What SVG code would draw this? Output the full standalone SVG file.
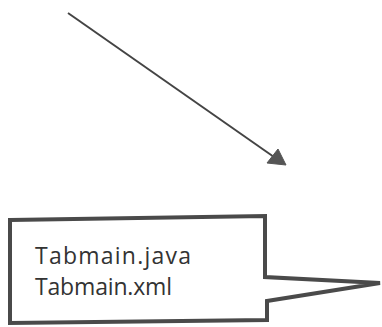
<svg xmlns="http://www.w3.org/2000/svg" width="382" height="327" viewBox="0 0 382 327">
  <defs>
    <style>
      .conn { stroke: #444; stroke-width: 2; fill: none; }
      .callout { fill: #fff; stroke: #4a4a4a; stroke-width: 4; stroke-linejoin: miter; }
      .label { font-family: "Open Sans", "Liberation Sans", sans-serif; font-size: 23px; fill: #333; }
    </style>
  </defs>
  <rect width="382" height="327" fill="#fff"/>
  <g id="connectors">
    <line class="conn" x1="68" y1="13" x2="274" y2="157"/>
    <polygon points="286,165 267,163 278,149" fill="#555" stroke="#555" stroke-width="1" stroke-linejoin="round"/>
  </g>
  <g id="callout">
    <polygon class="callout" points="10,220 265,216 265,277 380,283 267,301 267,320 10,323"/>
    <text class="label" x="35" y="264" textLength="156" lengthAdjust="spacing">Tabmain.java</text>
    <text class="label" x="35" y="295" textLength="137" lengthAdjust="spacing">Tabmain.xml</text>
  </g>
</svg>
